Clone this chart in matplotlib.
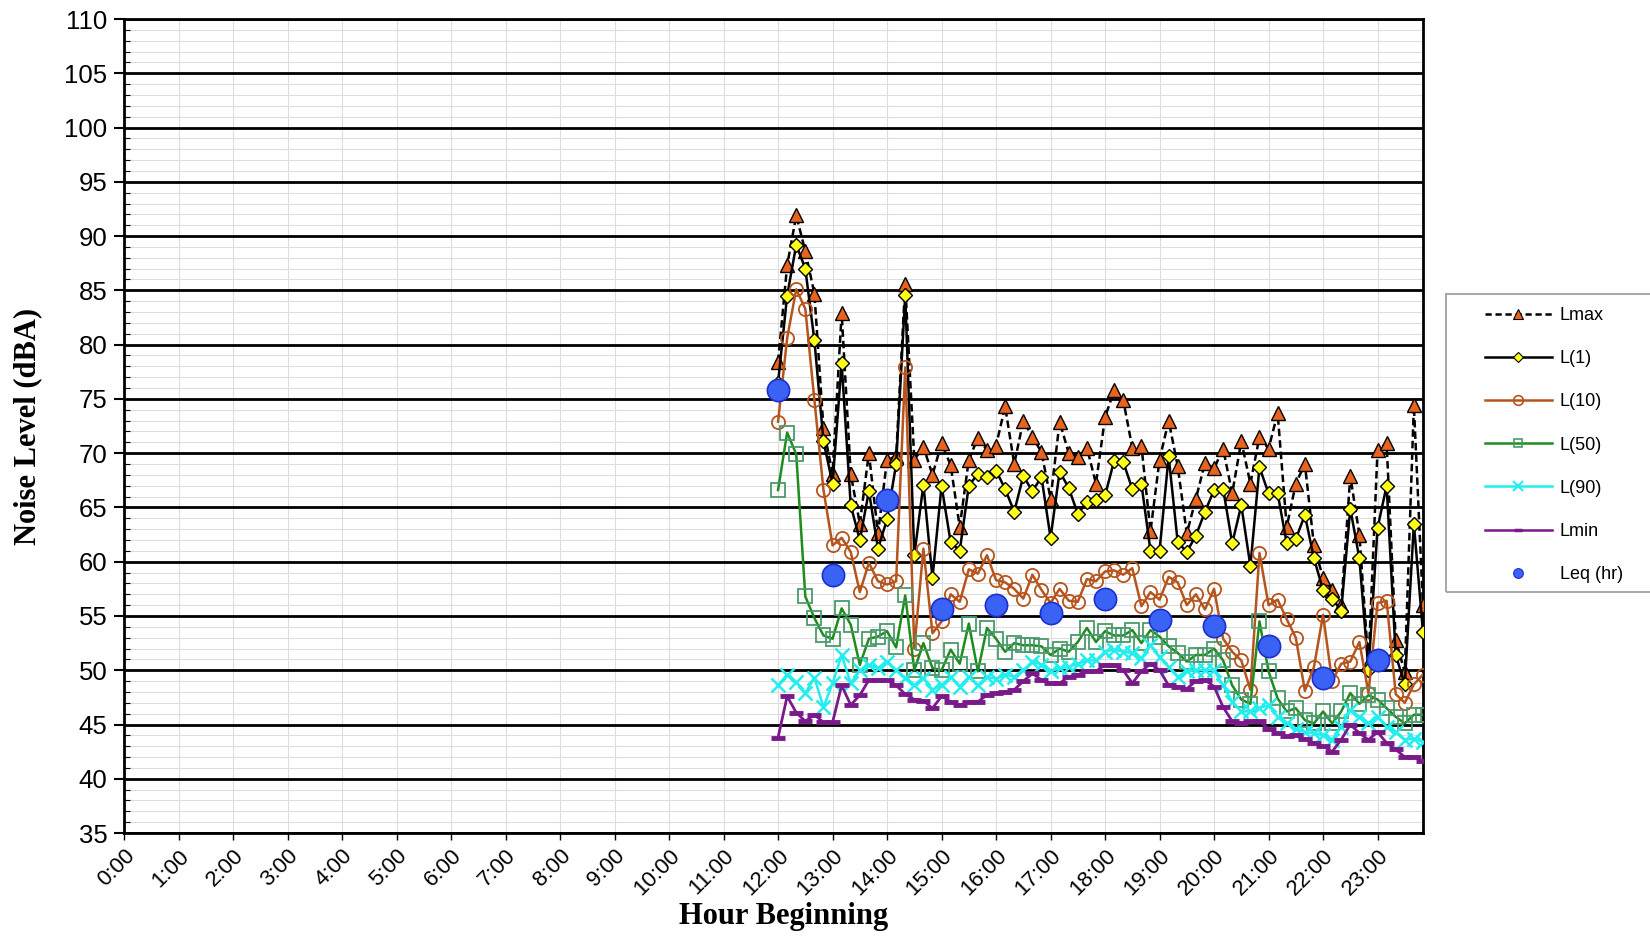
import numpy as np
import matplotlib
matplotlib.use("Agg")
import matplotlib.pyplot as plt
from matplotlib.lines import Line2D
from matplotlib.patches import Rectangle

# 10-minute readings from 12:00 to 23:50
start_time = "12:00"
step_min = 10

lmax = [78.4, 87.3, 91.9, 88.6, 84.7, 72.3, 68.1, 82.9, 68.1, 63.5, 70.0, 62.6,
        69.4, 69.7, 85.6, 69.4, 70.6, 68.0, 70.9, 68.9, 63.2, 69.4, 71.4, 70.3,
        70.7, 74.3, 69.0, 73.0, 71.5, 70.1, 65.8, 72.9, 70.0, 69.6, 70.5, 67.2,
        73.3, 75.8, 74.9, 70.5, 70.7, 62.8, 69.4, 73.0, 68.8, 62.6, 65.8, 69.1,
        68.6, 70.4, 66.3, 71.1, 67.2, 71.5, 70.4, 73.7, 63.2, 67.2, 69.0, 61.5,
        58.5, 57.4, 56.0, 67.9, 62.5, 50.6, 70.3, 70.9, 52.8, 49.8, 74.4, 56.0]
l1 = [76.5, 84.5, 89.2, 87.0, 80.4, 71.1, 67.2, 78.3, 65.2, 62.0, 66.5, 61.2,
      63.9, 69.0, 84.6, 60.6, 67.1, 58.5, 67.0, 61.8, 61.0, 67.0, 68.1, 67.8,
      68.4, 66.7, 64.6, 67.9, 66.5, 67.8, 62.2, 68.3, 66.8, 64.4, 65.5, 65.7,
      66.1, 69.3, 69.2, 66.7, 67.2, 61.0, 61.0, 69.7, 61.8, 60.9, 62.4, 64.6,
      66.6, 66.7, 61.7, 65.2, 59.6, 68.7, 66.3, 66.3, 61.7, 62.1, 64.3, 60.3,
      57.4, 56.6, 55.5, 64.9, 60.3, 50.0, 63.1, 67.0, 51.4, 48.7, 63.5, 53.5]
l10 = [72.9, 80.6, 85.1, 83.3, 74.9, 66.6, 61.5, 62.2, 60.9, 57.2, 59.9, 58.2,
       57.9, 58.2, 77.9, 52.0, 61.2, 53.4, 54.5, 57.0, 56.3, 59.3, 58.9, 60.6,
       58.3, 58.1, 57.5, 56.6, 58.8, 57.4, 56.2, 57.5, 56.4, 56.3, 58.4, 58.2,
       59.1, 59.2, 58.8, 59.4, 55.9, 57.2, 56.5, 58.6, 58.1, 56.0, 57.0, 55.6,
       57.5, 52.9, 51.7, 50.9, 48.2, 60.8, 56.0, 56.5, 54.7, 53.0, 48.1, 50.3,
       55.1, 49.0, 50.6, 50.8, 52.6, 47.9, 56.2, 56.4, 47.8, 47.0, 48.7, 49.6]
l50 = [66.6, 71.9, 69.9, 56.8, 54.8, 53.2, 52.9, 55.7, 54.2, 50.5, 52.9, 53.1,
       53.6, 52.1, 56.9, 50.0, 52.5, 50.2, 50.0, 51.9, 50.6, 54.3, 49.9, 53.9,
       52.9, 51.7, 52.5, 52.3, 52.3, 52.2, 51.4, 52.0, 51.7, 52.6, 53.9, 52.6,
       53.6, 53.2, 53.2, 53.7, 52.5, 53.7, 53.1, 52.2, 51.6, 50.8, 51.4, 51.4,
       52.0, 50.9, 48.6, 47.3, 46.9, 54.5, 49.9, 47.4, 46.2, 46.5, 45.4, 45.1,
       46.2, 45.1, 46.2, 47.9, 46.9, 47.7, 47.3, 46.5, 45.7, 45.1, 45.9, 45.9]
l90 = [48.6, 49.6, 48.9, 47.9, 49.3, 46.6, 48.8, 51.4, 48.8, 50.0, 50.5, 50.2,
       50.8, 50.0, 49.3, 48.6, 49.3, 48.2, 48.6, 49.4, 48.5, 49.4, 48.6, 49.4,
       49.2, 49.6, 49.4, 50.0, 50.8, 50.5, 49.9, 50.2, 50.3, 50.6, 50.9, 50.9,
       51.7, 51.9, 51.7, 51.6, 51.1, 52.3, 51.2, 50.3, 49.4, 49.9, 50.0, 50.0,
       50.0, 48.6, 47.1, 46.2, 46.2, 46.5, 46.8, 45.7, 45.1, 44.6, 44.3, 44.2,
       44.0, 43.6, 44.8, 46.3, 45.7, 45.1, 45.7, 44.8, 44.3, 43.6, 43.7, 43.4]
lmin = [43.8, 47.6, 46.1, 45.3, 45.9, 45.2, 45.2, 48.6, 46.8, 47.7, 49.1, 49.1,
        49.1, 48.6, 47.8, 47.3, 47.2, 46.5, 47.6, 47.1, 46.8, 47.1, 47.1, 47.7,
        47.9, 48.0, 48.2, 49.0, 49.7, 49.1, 48.8, 48.8, 49.4, 49.6, 49.9, 49.9,
        50.5, 50.5, 50.0, 48.8, 49.9, 50.6, 50.0, 48.6, 48.5, 48.3, 49.0, 49.1,
        48.5, 46.6, 45.3, 45.1, 45.3, 45.3, 44.6, 44.2, 43.9, 44.0, 43.7, 43.3,
        43.0, 42.5, 43.6, 45.0, 44.2, 43.6, 44.3, 43.3, 42.7, 42.0, 42.0, 41.6]

leq_hours = [12, 13, 14, 15, 16, 17, 18, 19, 20, 21, 22, 23]
leq = [75.8, 58.8, 65.7, 55.6, 56.0, 55.3, 56.6, 54.6, 54.1, 52.2, 49.3, 50.9]

hour_labels = ["%d:00" % h for h in range(24)]

# x positions in hours
h0, m0 = map(int, start_time.split(":"))
t = (h0 * 60 + m0 + step_min * np.arange(len(lmax))) / 60.0

plt.rcParams['font.family'] = ['Liberation Sans', 'DejaVu Sans']
fig = plt.figure(figsize=(16.5, 9.36), dpi=100)
ax = fig.add_axes([0.0752, 0.11, 0.7872, 0.8697])

lw = 1.8
ax.plot(t, lmax, color='black', lw=lw, ls=(0, (3, 1.6)), marker='^', ms=10,
        mfc='#e8641e', mec='black', mew=1.0, zorder=3)
ax.plot(t, l1, color='black', lw=lw, marker='D', ms=7.5,
        mfc='#ffff1a', mec='black', mew=1.0, zorder=3)
ax.plot(t, l10, color='#b5541c', lw=lw, marker='o', ms=9.5,
        mfc='none', mec='#b5541c', mew=1.3, zorder=3)
ax.plot(t, l50, color='#1e8c1e', lw=lw, marker='s', ms=9.5,
        mfc='none', mec='#4a9a6a', mew=1.3, zorder=3)
ax.plot(t, l90, color='#22eeee', lw=lw, marker='x', ms=9.5,
        mec='#22eeee', mew=1.8, zorder=3)
ax.plot(t, lmin, color='#7a1a8a', lw=2.0, marker='_', ms=9.5,
        mec='#7a1a8a', mew=3.5, zorder=3)
ax.plot(leq_hours, leq, ls='none', marker='o', ms=16,
        mfc='#3a63f5', mec='#1b2fd0', mew=1.2, zorder=4)

ax.set_xlim(0, 23 + 50 / 60)
ax.set_ylim(35, 110)
ax.set_xticks(range(24))
ax.set_xticklabels(hour_labels, rotation=45, ha='right', rotation_mode='anchor',
                   fontsize=16)
ax.set_yticks(range(35, 111, 5))
ax.set_yticks(range(35, 111), minor=True)
ax.tick_params(axis='y', which='major', labelsize=18.5, length=7, width=1.5,
               direction='out', pad=5)
ax.tick_params(axis='y', which='minor', length=4, width=0.8, direction='in')
ax.tick_params(axis='x', which='major', length=5, width=1.0, direction='out',
               pad=4)

ax.grid(axis='y', which='major', color='black', lw=2.0, zorder=1)
ax.grid(axis='y', which='minor', color='#dddddd', lw=0.8, zorder=0)
ax.grid(axis='x', which='major', color='#dddddd', lw=0.8, zorder=0)
ax.set_axisbelow(True)
for s in ax.spines.values():
    s.set_linewidth(2.0)
    s.set_color('black')

ax.set_xlabel('Hour Beginning', family=['Liberation Serif', 'DejaVu Serif'],
              fontsize=22, fontweight='bold', labelpad=4)
ax.xaxis.set_label_coords(0.508, -0.085)
ax.set_ylabel('Noise Level (dBA)', family=['Liberation Serif', 'DejaVu Serif'],
              fontsize=22, fontweight='bold', labelpad=16)

# legend box (runs off the right edge like the original)
fig.patches.append(Rectangle((0.8764, 0.3675), 0.14, 0.3184, transform=fig.transFigure,
                             fill=False, edgecolor='#a0a0a0', lw=1.3))

handles = [
    Line2D([], [], color='black', lw=1.8, ls=(0, (2.5, 1.5)), marker='^', ms=7,
           mfc='#e8641e', mec='black', mew=0.8),
    Line2D([], [], color='black', lw=1.8, marker='D', ms=5,
           mfc='#ffff1a', mec='black', mew=0.8),
    Line2D([], [], color='#b5541c', lw=1.8, marker='o', ms=7,
           mfc='none', mec='#b5541c', mew=1.2),
    Line2D([], [], color='#1e8c1e', lw=1.8, marker='s', ms=6,
           mfc='none', mec='#4a9a6a', mew=1.2),
    Line2D([], [], color='#22eeee', lw=1.8, marker='x', ms=7,
           mec='#22eeee', mew=1.5),
    Line2D([], [], color='#7a1a8a', lw=1.8, marker='_', ms=6,
           mec='#7a1a8a', mew=2.5),
    Line2D([], [], ls='none', marker='o', ms=7,
           mfc='#3a63f5', mec='#1b2fd0', mew=0.8),
]
labels = ['Lmax', 'L(1)', 'L(10)', 'L(50)', 'L(90)', 'Lmin', 'Leq (hr)']
leg = fig.legend(handles, labels, loc='upper left', bbox_to_anchor=(0.9, 0.672),
                 fontsize=13, frameon=False, handlelength=3.7, labelspacing=1.45,
                 borderpad=0, borderaxespad=0, handletextpad=0.45)

fig.savefig('out.png', dpi=100)
